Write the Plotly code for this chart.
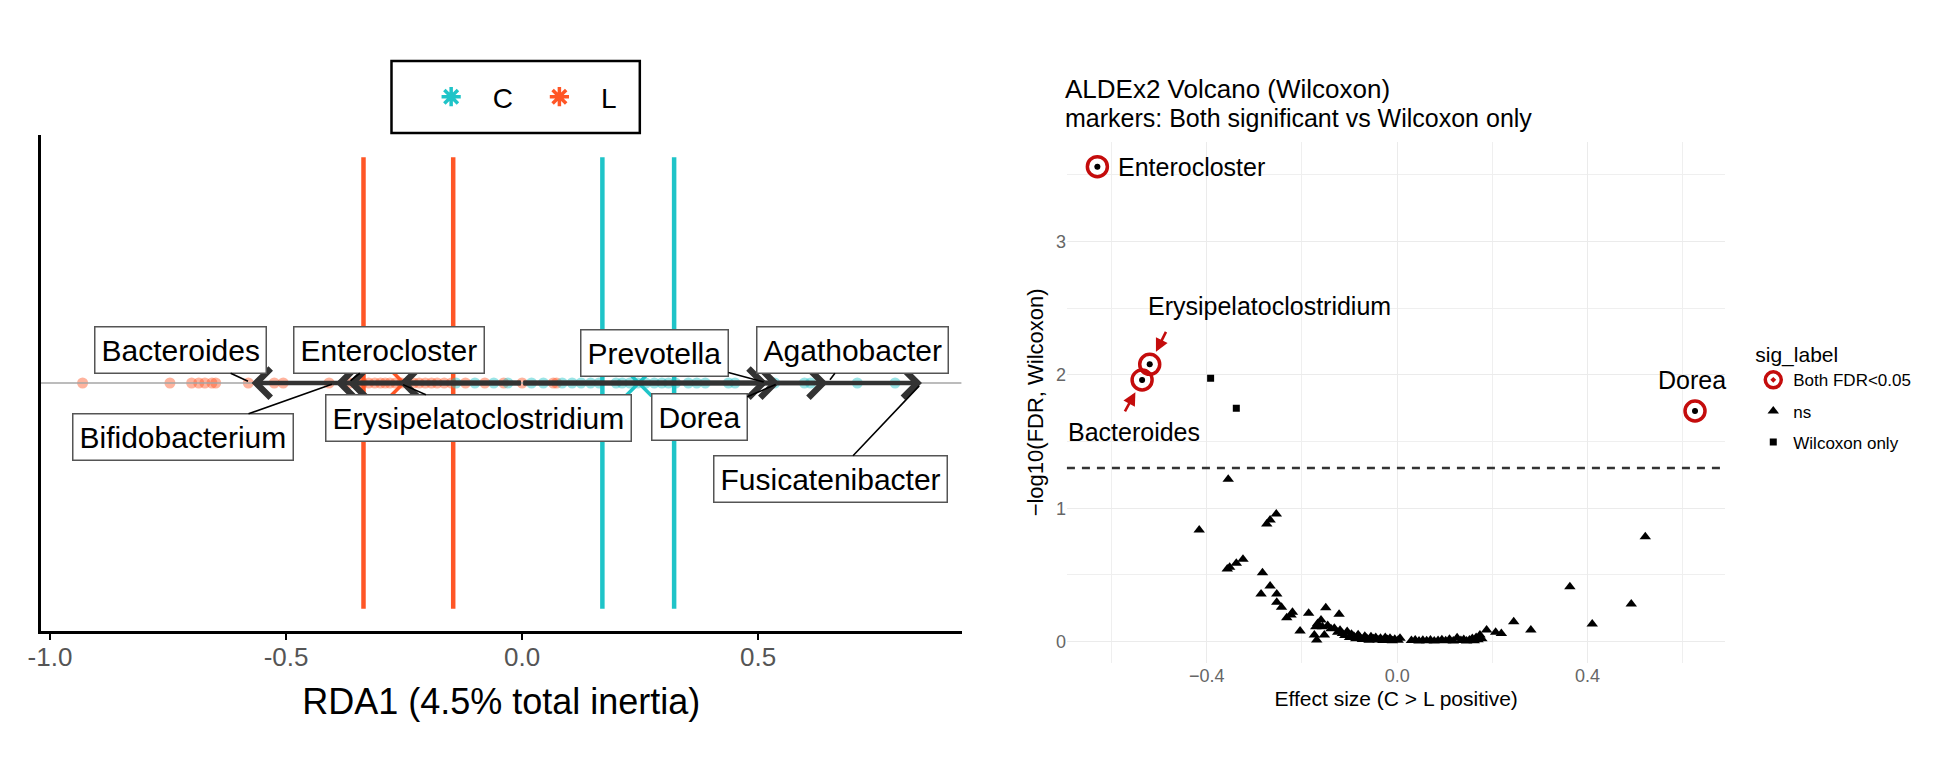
import math
import plotly.graph_objects as go

FONT = "Liberation Sans, Arial, sans-serif"

# page is rendered with an 8px body margin; figure size fits inside it
OFF = 8
W, H = 1950 - 2 * OFF, 780 - 2 * OFF


def fx(p):
    return (p - OFF) / W


def fy(p):
    return 1 - (p - OFF) / H


# ---------------- Left panel data: RDA1 ----------------
groups = ["C", "L"]
group_colors = {"C": "#1FC4C8", "L": "#FF5626"}
centroid_rda1 = {"C": 0.247, "L": -0.251}
interval_low = {"C": 0.170, "L": -0.336}
interval_high = {"C": 0.322, "L": -0.146}
interval_half_height = 0.91

samples_L = [-0.931, -0.746, -0.700, -0.685, -0.672, -0.657, -0.649, -0.580,
             -0.525, -0.506, -0.409, -0.365, -0.350, -0.338, -0.325, -0.312,
             -0.300, -0.290, -0.280, -0.268, -0.255, -0.243, -0.230, -0.218,
             -0.205, -0.192, -0.180, -0.165, -0.150, -0.120, -0.079, -0.039,
             0.000, 0.066, 0.073]
samples_C = [-0.140, -0.100, -0.060, -0.030, 0.020, 0.045, 0.085, 0.106,
             0.125, 0.145, 0.163, 0.199, 0.212, 0.228, 0.245, 0.262, 0.280,
             0.296, 0.310, 0.325, 0.352, 0.370, 0.388, 0.437, 0.451, 0.535,
             0.598, 0.611, 0.710, 0.790]

species = ["Bacteroides", "Bifidobacterium", "Enterocloster",
           "Erysipelatoclostridium", "Prevotella", "Dorea", "Agathobacter",
           "Fusicatenibacter"]
species_rda1 = [-0.573, -0.395, -0.370, -0.260, 0.520, 0.545, 0.647, 0.847]
# label placement offsets in pixels (label centre relative to arrow tip)
label_dx = [-71, -153, 42, 79, -113, -80, 25, -91]
label_dy = [-33, 54, -33, 35, -30, 34, -33, 96]

rda_ticks = [-1.0, -0.5, 0.0, 0.5]
rda_ticktext = ["-1.0", "-0.5", "0.0", "0.5"]

# ---------------- Right panel data: volcano ----------------
ns_x = [-0.416, -0.355, -0.254, -0.267, -0.274, -0.324, -0.338, -0.352, -0.357,
        -0.283, -0.267, -0.286, -0.253, -0.253, -0.243, -0.220, -0.223, -0.232,
        -0.186, -0.150, -0.122, -0.204, -0.160, -0.167, -0.171, -0.157, -0.174,
        -0.153, -0.169,
        -0.146, -0.139, -0.132, -0.125, -0.120, -0.115, -0.110, -0.105, -0.100,
        -0.096, -0.091, -0.087, -0.082, -0.078, -0.073, -0.068, -0.064, -0.059,
        -0.055, -0.050, -0.045, -0.040, -0.035, -0.030, -0.025, -0.020, -0.015,
        -0.010, -0.005, 0.002, 0.006,
        0.030, 0.038, 0.046, 0.054, 0.062, 0.070, 0.078, 0.086, 0.094, 0.102,
        0.110, 0.118, 0.126, 0.134, 0.140, 0.146, 0.152, 0.158, 0.162, 0.166,
        0.170, 0.174, 0.178,
        0.188, 0.207, 0.219, 0.245, 0.281, 0.363, 0.410, 0.492, 0.5215]
ns_y = [0.836, 1.217, 0.956, 0.911, 0.881, 0.617, 0.587, 0.557, 0.544,
        0.516, 0.416, 0.356, 0.356, 0.294, 0.257, 0.219, 0.199, 0.179,
        0.212, 0.254, 0.204, 0.079, 0.161, 0.136, 0.111, 0.111, 0.049,
        0.049, 0.011,
        0.120, 0.095, 0.100, 0.070, 0.085, 0.060, 0.045, 0.075, 0.030,
        0.055, 0.040, 0.020, 0.050, 0.030, 0.015, 0.040, 0.025, 0.010,
        0.035, 0.020, 0.030, 0.012, 0.025, 0.008, 0.030, 0.015, 0.025,
        0.005, 0.018, 0.010, 0.025,
        0.008, 0.012, 0.004, 0.010, 0.006, 0.012, 0.004, 0.008, 0.014, 0.006,
        0.018, 0.004, 0.028, 0.008, 0.016, 0.004, 0.012, 0.022, 0.006, 0.030,
        0.014, 0.049, 0.020,
        0.086, 0.069, 0.061, 0.149, 0.086, 0.411, 0.131, 0.281, 0.786]

wilcoxon_only_x = [-0.392, -0.338]
wilcoxon_only_y = [1.974, 1.749]

both_names = ["Enterocloster", "Erysipelatoclostridium", "Bacteroides", "Dorea"]
both_x = [-0.630, -0.520, -0.536, 0.626]
both_y = [3.562, 2.079, 1.962, 1.729]

FDR_THRESHOLD = 0.05

volcano_xticks = [-0.4, 0.0, 0.4]
volcano_xticktext = ["\u22120.4", "0.0", "0.4"]
volcano_yticks = [0, 1, 2, 3]
volcano_yticktext = ["0", "1", "2", "3"]

RED = "#C40C0C"

fig = go.Figure()

# ---------- Left panel traces ----------
for g in groups:
    lo, hi, h = interval_low[g], interval_high[g], interval_half_height
    fig.add_trace(go.Scatter(
        x=[lo, lo, None, hi, hi], y=[-h, h, None, -h, h], mode="lines",
        line=dict(color=group_colors[g], width=4.5), showlegend=False,
        hoverinfo="skip", xaxis="x", yaxis="y"))

for g, vals in (("L", samples_L), ("C", samples_C)):
    fig.add_trace(go.Scatter(
        x=vals, y=[0] * len(vals), mode="markers",
        marker=dict(color=group_colors[g], size=11, opacity=0.45),
        showlegend=False, xaxis="x", yaxis="y"))

# y = 0 reference line
fig.add_trace(go.Scatter(
    x=[-1.0194, 0.931], y=[0, 0], mode="lines",
    line=dict(color="#A6A6A6", width=1.6), showlegend=False,
    hoverinfo="skip", xaxis="x", yaxis="y"))

for g in groups:
    fig.add_trace(go.Scatter(
        x=[centroid_rda1[g]], y=[0], mode="markers",
        marker=dict(symbol="x-thin-open", size=26, color=group_colors[g],
                    line=dict(color=group_colors[g], width=3.5)),
        showlegend=False, xaxis="x", yaxis="y"))
    fig.add_trace(go.Scatter(
        x=[None], y=[None], mode="markers", name=g, legend="legend",
        legendgroup="grp_" + g,
        marker=dict(symbol="asterisk-open", size=30, color=group_colors[g],
                    line=dict(color=group_colors[g], width=3.5)),
        xaxis="x", yaxis="y"))

# ---------- Right panel traces ----------
fig.add_trace(go.Scatter(
    x=both_x, y=both_y, mode="markers", name="Both FDR<0.05", legend="legend2",
    legendgroup="both",
    marker=dict(symbol="circle-open-dot", size=20, color=RED,
                line=dict(color=RED, width=3.5)),
    xaxis="x2", yaxis="y2"))
fig.add_trace(go.Scatter(
    x=both_x, y=both_y, mode="markers", showlegend=False, legendgroup="both",
    marker=dict(symbol="circle", size=6, color="black"),
    xaxis="x2", yaxis="y2"))
fig.add_trace(go.Scatter(
    x=ns_x, y=ns_y, mode="markers", name="ns", legend="legend2",
    legendgroup="ns",
    marker=dict(symbol="triangle-up", size=10, color="black"),
    xaxis="x2", yaxis="y2"))
fig.add_trace(go.Scatter(
    x=wilcoxon_only_x, y=wilcoxon_only_y, mode="markers", name="Wilcoxon only",
    legend="legend2", legendgroup="wil",
    marker=dict(symbol="square", size=7, color="black"),
    xaxis="x2", yaxis="y2"))

annotations = []
# biplot arrows from origin
for sp, tip in zip(species, species_rda1):
    annotations.append(dict(
        x=tip, y=0, ax=0, ay=0, xref="x", yref="y", axref="x", ayref="y",
        text="", showarrow=True, arrowhead=4, arrowsize=1.25, arrowwidth=4.5,
        arrowcolor="#333333"))
# boxed labels with leader lines
for sp, tip, dx, dy in zip(species, species_rda1, label_dx, label_dy):
    annotations.append(dict(
        x=tip, y=0, xref="x", yref="y", ax=dx, ay=dy, text=sp,
        showarrow=True, arrowhead=0, arrowwidth=1.6, arrowcolor="black",
        standoff=4, bgcolor="white", bordercolor="#555555", borderwidth=1.5,
        borderpad=6, font=dict(family=FONT, size=30, color="black")))

# volcano labels
vol_shift = {"Enterocloster": (19, 0, "left"),
             "Erysipelatoclostridium": (120, 58, "center"),
             "Bacteroides": (-8, -52, "center"),
             "Dorea": (-3, 31, "center")}
for nm, x, y in zip(both_names, both_x, both_y):
    sx, sy, anc = vol_shift[nm]
    annotations.append(dict(
        x=x, y=y, xref="x2", yref="y2", text=nm, showarrow=False,
        xshift=sx, yshift=sy, xanchor=anc,
        font=dict(family=FONT, size=25, color="black")))
vol_arrows = {"Erysipelatoclostridium": (17, -34), "Bacteroides": (-18, 33)}
for nm, x, y in zip(both_names, both_x, both_y):
    if nm in vol_arrows:
        ax, ay = vol_arrows[nm]
        annotations.append(dict(
            x=x, y=y, xref="x2", yref="y2", ax=ax, ay=ay, text="",
            showarrow=True, arrowhead=2, arrowsize=1.0, arrowwidth=2.6,
            arrowcolor=RED, standoff=14))

# titles
annotations.append(dict(x=fx(1057), y=fy(89), xref="paper", yref="paper",
                        text="ALDEx2 Volcano (Wilcoxon)", showarrow=False,
                        xanchor="left", yanchor="middle",
                        font=dict(family=FONT, size=26, color="black")))
annotations.append(dict(x=fx(1057), y=fy(118), xref="paper", yref="paper",
                        text="markers: Both significant vs Wilcoxon only",
                        showarrow=False, xanchor="left", yanchor="middle",
                        font=dict(family=FONT, size=25, color="black")))

fig.add_shape(type="line", xref="x2 domain", yref="y2", x0=0, x1=1,
              y0=-math.log10(FDR_THRESHOLD), y1=-math.log10(FDR_THRESHOLD),
              line=dict(color="#333333", width=2.5, dash="8px,7px"))
# frame around the group legend
fig.add_shape(type="rect", xref="paper", yref="paper",
              x0=fx(381), x1=fx(631), y0=fy(133), y1=fy(61),
              line=dict(color="black", width=2.5), fillcolor="white",
              layer="below")

fig.update_layout(
    width=W, height=H,
    margin=dict(l=0, r=0, t=0, b=0),
    paper_bgcolor="white", plot_bgcolor="white",
    font=dict(family=FONT, color="black"),
    annotations=annotations,
    xaxis=dict(domain=[fx(28), fx(955)], range=[-1.0194, 0.931],
               showgrid=False, zeroline=False, showline=True, linecolor="black",
               linewidth=2.6, ticks="outside", ticklen=6, tickwidth=2,
               tickcolor="black", tickvals=rda_ticks, ticktext=rda_ticktext,
               ticklabelstandoff=-5,
               tickfont=dict(family=FONT, size=26, color="#555555"),
               title=dict(text="RDA1 (4.5% total inertia)", standoff=18,
                          font=dict(family=FONT, size=36, color="black"))),
    yaxis=dict(domain=[fy(631), fy(135)], range=[-1, 1],
               showgrid=False, zeroline=False, showline=True, linecolor="black",
               linewidth=2.6, showticklabels=False, ticks=""),
    xaxis2=dict(domain=[fx(1061), fx(1724)], range=[-0.694, 0.690],
                anchor="y2", showgrid=True, gridcolor="#EBEBEB", gridwidth=1.4,
                zeroline=False, showline=False, ticks="",
                tickvals=volcano_xticks, ticktext=volcano_xticktext,
                tickfont=dict(family=FONT, size=18, color="#666666"),
                minor=dict(dtick=0.2, tick0=0, showgrid=True,
                           gridcolor="#EFEFEF", gridwidth=1.2),
                title=dict(text="Effect size (C > L positive)", standoff=6,
                           font=dict(family=FONT, size=21, color="black"))),
    yaxis2=dict(domain=[fy(663), fy(141.7)], range=[-0.161, 3.749],
                anchor="x2", showgrid=True, gridcolor="#EBEBEB", gridwidth=1.4,
                zeroline=False, showline=False, ticks="",
                tickvals=volcano_yticks, ticktext=volcano_yticktext,
                tickfont=dict(family=FONT, size=18, color="#666666"),
                minor=dict(dtick=0.5, tick0=0, showgrid=True,
                           gridcolor="#EFEFEF", gridwidth=1.2),
                title=dict(text="\u2212log10(FDR, Wilcoxon)", standoff=6,
                           font=dict(family=FONT, size=22, color="black"))),
    legend=dict(orientation="h", x=fx(506), xanchor="center",
                y=fy(97), yanchor="middle", borderwidth=0,
                bgcolor="rgba(0,0,0,0)", traceorder="normal",
                font=dict(family=FONT, size=28, color="black"),
                itemwidth=73),
    legend2=dict(x=fx(1752), xanchor="left", y=fy(335), yanchor="top",
                 bgcolor="rgba(0,0,0,0)", traceorder="grouped",
                 title=dict(text="sig_label", font=dict(family=FONT, size=21)),
                 font=dict(family=FONT, size=17, color="black"),
                 tracegroupgap=6),
    showlegend=True,
)

fig.write_html("out.html")
